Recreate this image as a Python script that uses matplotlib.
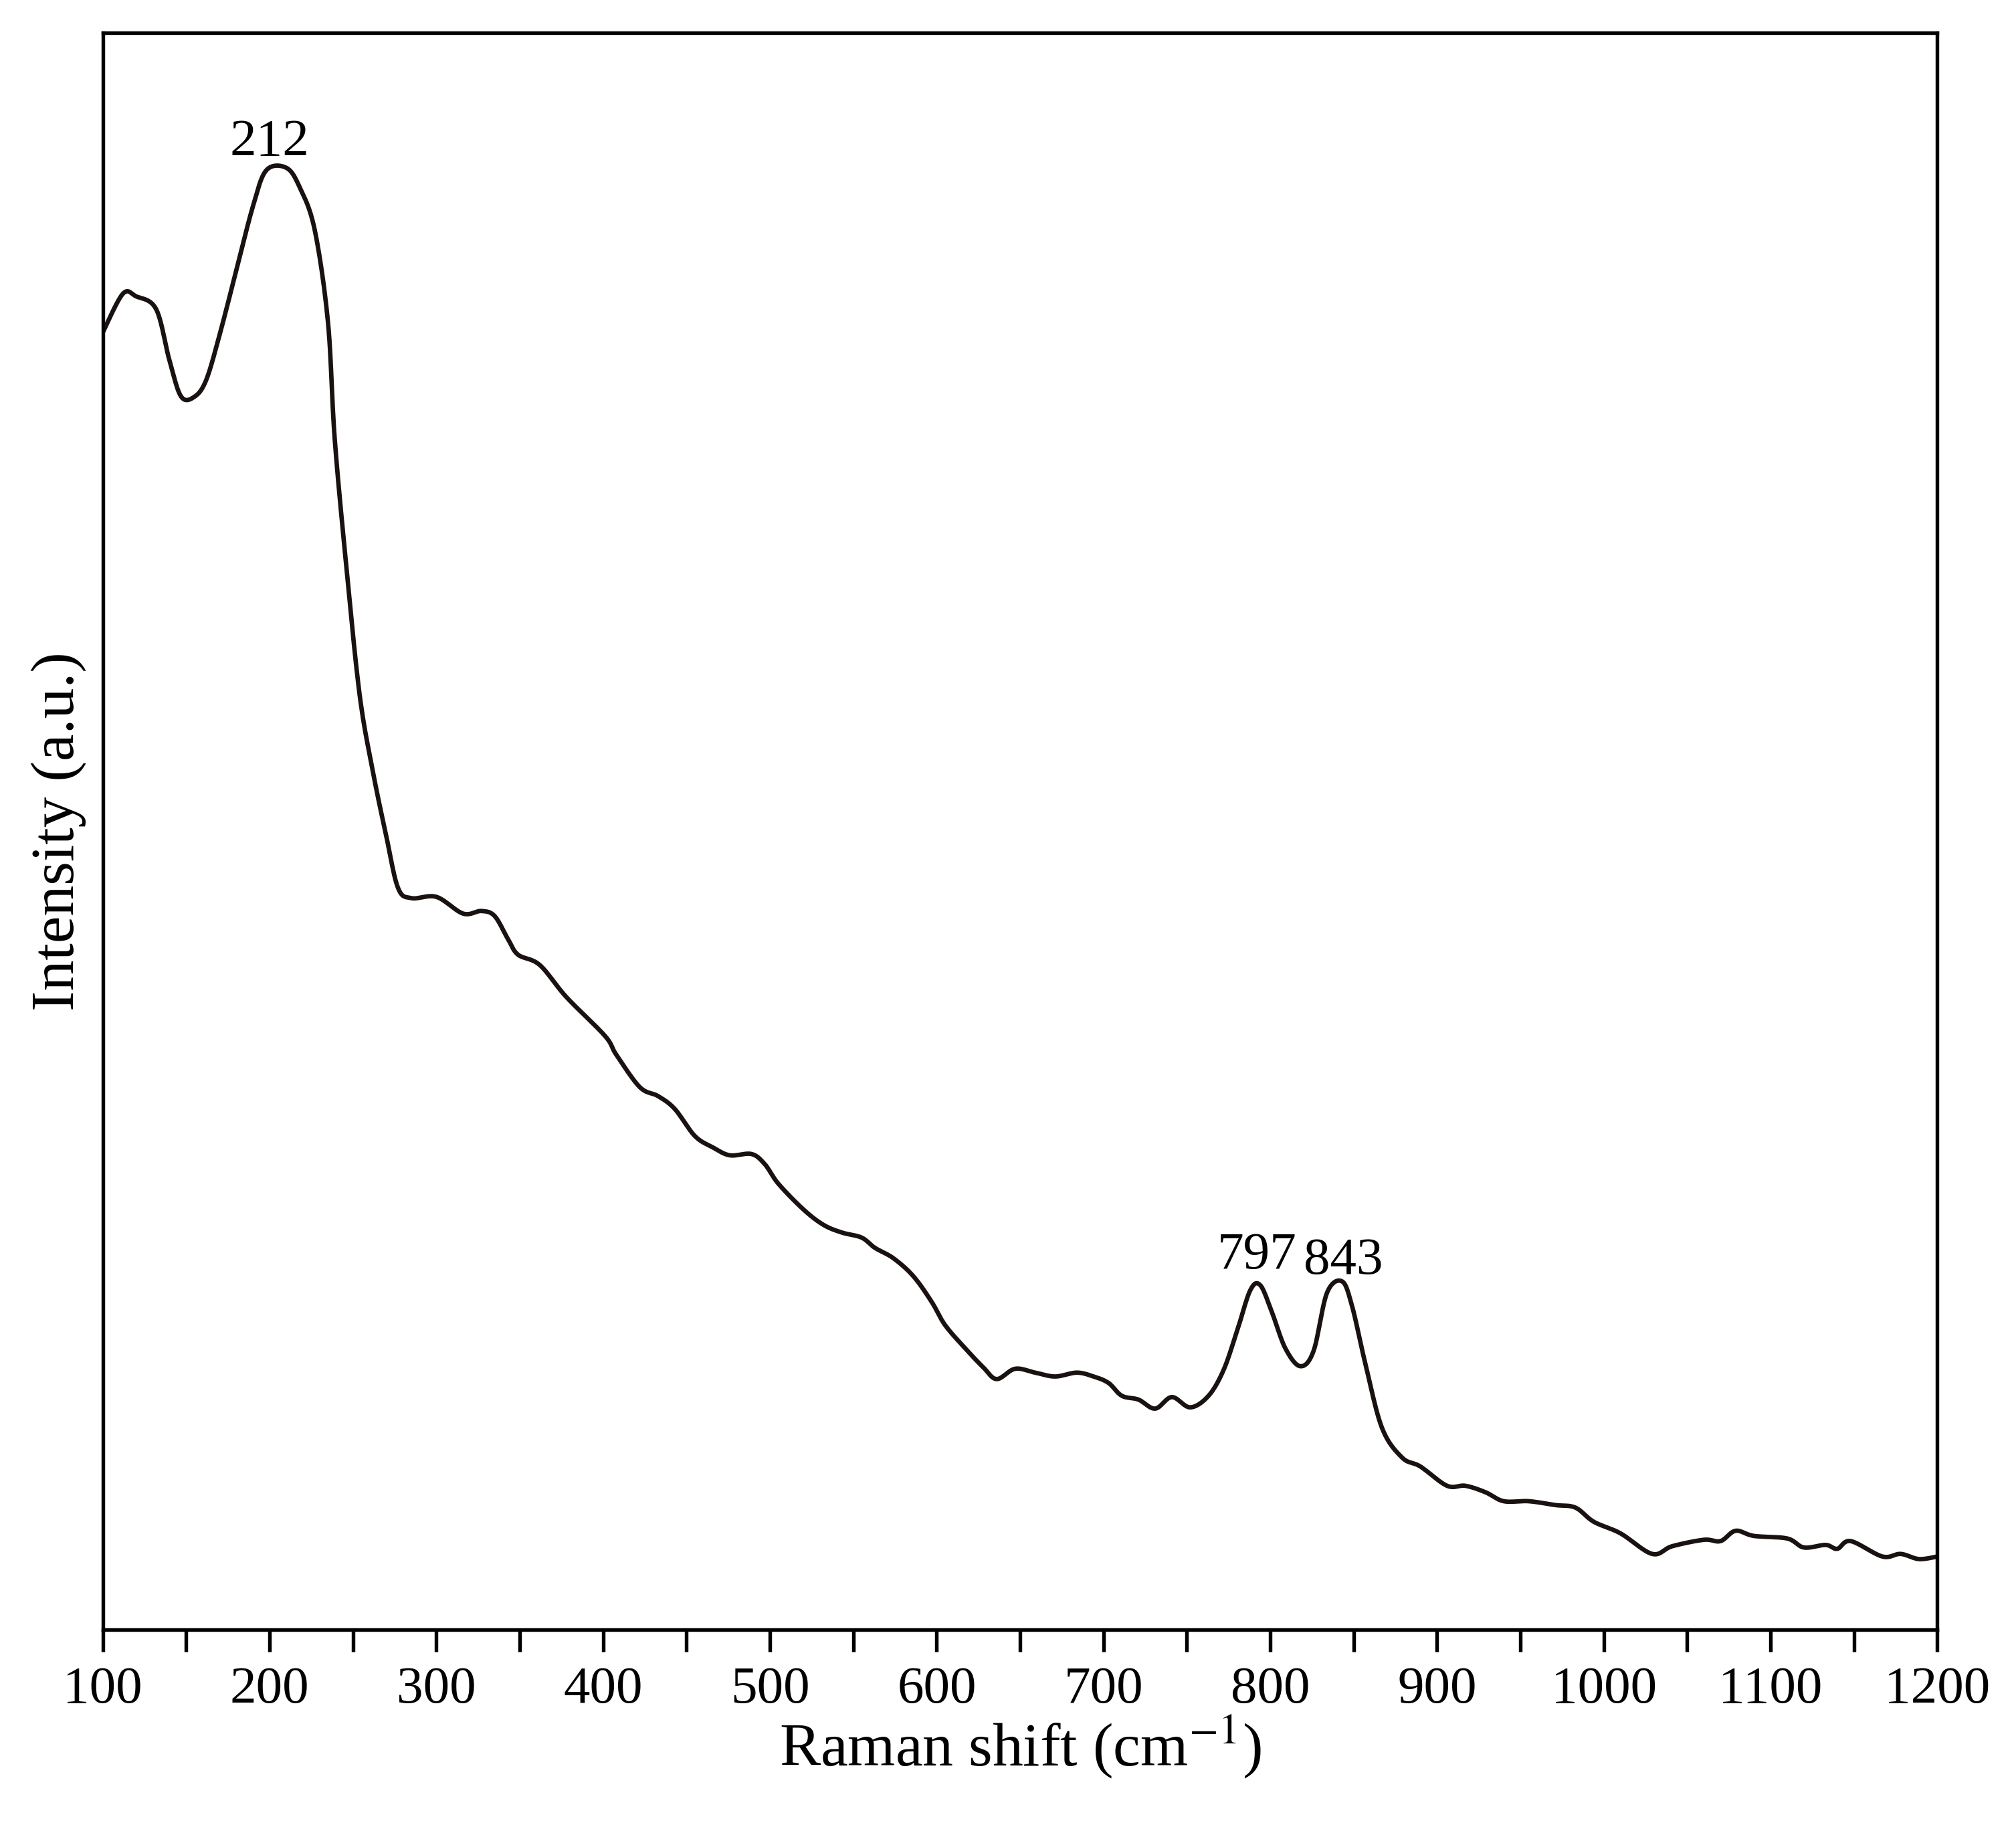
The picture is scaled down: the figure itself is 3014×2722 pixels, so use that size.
import numpy as np
import matplotlib.pyplot as plt

plt.rcParams['font.family'] = ['Liberation Serif', 'DejaVu Serif']
plt.rcParams['mathtext.fontset'] = 'stix'

# Raman shift (cm-1) and intensity (a.u.)
shift = [100, 112, 120, 132, 140, 147, 155, 162, 170, 180, 190, 198, 210, 218, 227,
         235, 239, 246, 254, 262, 270, 277, 285, 300, 316, 327, 335, 343, 349, 362,
         378, 401, 408, 422, 433, 443, 455, 466, 476, 489, 497, 505, 520, 532, 543,
         555, 563, 574, 586, 597, 605, 617, 628, 636, 647, 659, 671, 684, 694, 703,
         711, 721, 731, 741, 752, 763, 772, 780, 788, 794, 801, 809, 818, 826, 834,
         843, 849, 857, 867, 879, 890, 906, 917, 929, 940, 955, 971, 983, 994, 1010,
         1029, 1041, 1060, 1070, 1079, 1090, 1110, 1120, 1133, 1140, 1148, 1167, 1178,
         1189, 1200]
ypix = [258, 228, 230, 240, 280, 308, 308, 295, 260, 210, 160, 132, 130, 145, 178,
        250, 340, 440, 540, 600, 650, 690, 698, 697, 710, 708, 712, 730, 742, 750,
        775, 805, 820, 845, 852, 862, 883, 892, 898, 897, 905, 920, 940, 952, 958,
        962, 970, 978, 992, 1012, 1030, 1048, 1063, 1072, 1064, 1067, 1070, 1067, 1070, 1075,
        1085, 1088, 1095, 1086, 1094, 1085, 1065, 1035, 1003, 999, 1020, 1048, 1062, 1050, 1005,
        996, 1015, 1060, 1110, 1133, 1140, 1155, 1155, 1160, 1167, 1167, 1170, 1172, 1183, 1192,
        1208, 1202, 1197, 1198, 1190, 1194, 1196, 1203, 1201, 1204, 1198, 1210, 1208,
        1212, 1210]
intensity = 1267 - np.array(ypix)

peak_labels = ['212', '797', '843']
peak_x = [200, 792, 844]
peak_y = [1138, 272, 268]


def smooth_curve(x, y, n=12):
    # Catmull-Rom through the read points, only to draw a smooth line
    x = np.asarray(x, float)
    y = np.asarray(y, float)
    px = np.concatenate([[x[0]], x, [x[-1]]])
    py = np.concatenate([[y[0]], y, [y[-1]]])
    xs, ys = [], []
    t = np.linspace(0, 1, n, endpoint=False)
    for i in range(1, len(px) - 2):
        for p, out in ((px, xs), (py, ys)):
            p0, p1, p2, p3 = p[i - 1], p[i], p[i + 1], p[i + 2]
            out.extend(0.5 * (2 * p1 + (-p0 + p2) * t
                              + (2 * p0 - 5 * p1 + 4 * p2 - p3) * t ** 2
                              + (-p0 + 3 * p1 - 3 * p2 + p3) * t ** 3))
    xs.append(x[-1])
    ys.append(y[-1])
    return xs, ys


fig = plt.figure(figsize=(3014 / 300, 2722 / 300), dpi=300)
ax = fig.add_axes([0.051, 0.105, 0.910, 0.877])
sx, sy = smooth_curve(shift, intensity)
ax.plot(sx, sy, color='#1a1111', lw=1.6)

for lbl, xp, yp in zip(peak_labels, peak_x, peak_y):
    ax.text(xp, yp, lbl, ha='center', va='bottom', fontsize=19)

ax.set_xlim(100, 1200)
ax.set_ylim(0, 1242)
ax.set_xticks(range(100, 1201, 100))
ax.set_xticks(range(150, 1200, 100), minor=True)
ax.set_yticks([])
ax.tick_params(axis='x', which='both', direction='out', length=8, width=1.3, labelsize=19, pad=5)
for s in ax.spines.values():
    s.set_linewidth(1.3)
ax.set_xlabel('Raman shift (cm$^{-1}$)', fontsize=22, labelpad=0)
ax.set_ylabel('Intensity (a.u.)', fontsize=22, labelpad=6)

plt.savefig('out.png', dpi=300)
